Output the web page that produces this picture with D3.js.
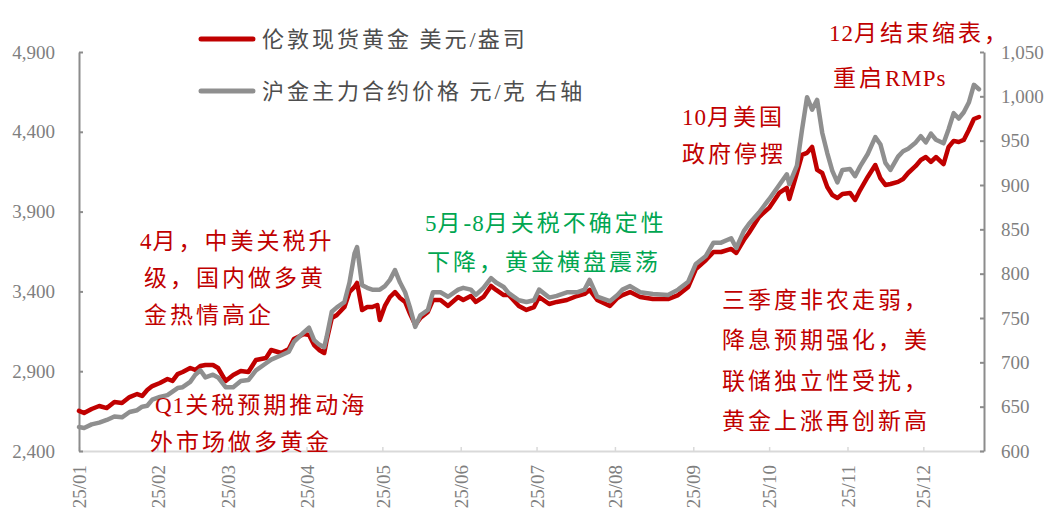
<!DOCTYPE html>
<html><head><meta charset="utf-8">
<script src="https://cdn.jsdelivr.net/npm/d3@7/dist/d3.min.js"></script>
<style>
body{margin:0;background:#fff;}
svg{display:block;}
text{white-space:pre;}
</style></head>
<body><svg id="chart" width="1047" height="522"></svg>
<script>
const dates = ["2025-01-01","2025-01-03","2025-01-06","2025-01-09","2025-01-12","2025-01-15","2025-01-18","2025-01-21","2025-01-24","2025-01-26","2025-01-28","2025-01-30",
"2025-02-02","2025-02-05","2025-02-07","2025-02-09","2025-02-11","2025-02-14","2025-02-16","2025-02-18","2025-02-20","2025-02-23","2025-02-25","2025-02-28",
"2025-03-03","2025-03-06","2025-03-09","2025-03-12","2025-03-16","2025-03-18","2025-03-22","2025-03-25","2025-03-27","2025-03-31",
"2025-04-02","2025-04-04","2025-04-06","2025-04-08","2025-04-09","2025-04-11","2025-04-13","2025-04-16","2025-04-18","2025-04-20","2025-04-21","2025-04-23","2025-04-25","2025-04-27","2025-04-29","2025-04-30",
"2025-05-02","2025-05-04","2025-05-06","2025-05-08","2025-05-10","2025-05-12","2025-05-14","2025-05-16","2025-05-19","2025-05-21","2025-05-24","2025-05-27","2025-05-31",
"2025-06-02","2025-06-05","2025-06-07","2025-06-10","2025-06-13","2025-06-15","2025-06-18","2025-06-20","2025-06-24","2025-06-27","2025-06-30",
"2025-07-02","2025-07-06","2025-07-09","2025-07-13","2025-07-17","2025-07-20","2025-07-22","2025-07-25","2025-07-30",
"2025-08-02","2025-08-04","2025-08-07","2025-08-11","2025-08-16","2025-08-22","2025-08-26","2025-08-30",
"2025-09-02","2025-09-06","2025-09-09","2025-09-12","2025-09-16","2025-09-18","2025-09-21","2025-09-23","2025-09-27",
"2025-10-01","2025-10-05","2025-10-08","2025-10-09","2025-10-12","2025-10-14","2025-10-16","2025-10-18","2025-10-20","2025-10-22","2025-10-24","2025-10-26","2025-10-28","2025-10-30",
"2025-11-02","2025-11-04","2025-11-06","2025-11-09","2025-11-12","2025-11-14","2025-11-16","2025-11-18","2025-11-21","2025-11-23","2025-11-25","2025-11-28","2025-11-30",
"2025-12-02","2025-12-04","2025-12-06","2025-12-09","2025-12-11","2025-12-13","2025-12-15","2025-12-17","2025-12-19","2025-12-21","2025-12-23"];

const londonGold = [2651,2638,2663,2682,2669,2707,2701,2738,2757,2745,2782,2807,
2826,2851,2839,2882,2895,2920,2908,2933,2939,2939,2920,2839,
2876,2901,2895,2970,2983,3033,3014,3039,3102,3133,
3127,3064,3033,3014,3096,3233,3252,3302,3396,3428,3453,3283,3302,3302,3315,3221,
3309,3365,3396,3359,3334,3258,3190,3233,3271,3346,3346,3309,3365,
3346,3371,3334,3365,3434,3409,3377,3377,3309,3284,3302,
3365,3321,3334,3346,3371,3384,3409,3346,3309,
3359,3377,3396,3365,3352,3352,3377,3428,
3540,3597,3647,3647,3666,3641,3722,3766,3866,
3923,4017,4048,3979,4142,4255,4268,4305,4161,4142,4054,4004,3985,4010,
4017,3973,4035,4117,4192,4110,4067,4073,4086,4104,4142,4186,4223,
4242,4211,4242,4198,4305,4343,4336,4349,4411,4480,4493];

const shfeGold = [627,626,630,632,635,639,638,644,646,650,651,658,
661,663,667,671,672,678,686,691,683,686,683,672,
672,679,680,691,699,703,708,712,723,734,
739,725,720,717,729,757,762,768,790,823,830,787,784,782,782,782,
786,793,804,790,779,761,740,753,759,779,779,774,782,
784,782,776,784,795,790,785,778,770,768,770,
782,773,775,779,779,782,793,774,769,
776,782,786,779,777,776,782,791,
811,820,835,835,840,829,848,856,869,
884,900,912,901,922,962,999,985,996,959,936,916,903,917,
918,910,921,935,954,946,925,917,932,938,941,948,955,
948,958,951,947,963,981,975,982,993,1013,1008];

const leftTicks = [2400,2900,3400,3900,4400,4900];
const rightTicks = [600,650,700,750,800,850,900,950,1000,1050];

const legendLabels = ["伦敦现货黄金 美元/盎司","沪金主力合约价格 元/克 右轴"];
const RED = "#C00000", GRAY = "#8F8F8F", GREEN = "#00A651";

const svg = d3.select("#chart");
const parse = d3.utcParse("%Y-%m-%d");
const data = dates.map((d,i)=>({date:parse(d), lg:londonGold[i], sh:shfeGold[i]}));

const x = d3.scaleUtc().domain([parse("2025-01-01"), parse("2025-12-25")]).range([79, 984]);
const yL = d3.scaleLinear().domain([2400,4900]).range([451,52]);
const yR = d3.scaleLinear().domain([600,1050]).range([451,52]);

const tickFont = "'Liberation Serif', 'Noto Sans CJK SC', serif";
const cjkFont = "'Liberation Serif', 'Noto Sans CJK SC', serif";

// bottom axis
const gx = svg.append("g").attr("transform","translate(0,451)")
  .call(d3.axisBottom(x).ticks(d3.utcMonth.every(1)).tickFormat(d3.utcFormat("%y/%m"))
    .tickSizeInner(-4).tickSizeOuter(0));
gx.select(".domain").attr("stroke","#D9D9D9").attr("stroke-width",2);
gx.selectAll(".tick line").attr("stroke","#D9D9D9").attr("stroke-width",1.5);
gx.selectAll(".tick text")
  .attr("y",0).attr("x",-14).attr("dy","0.35em")
  .attr("transform","rotate(-90)")
  .style("text-anchor","end")
  .attr("fill","#7F7F7F").style("font-family",tickFont).style("font-size","19px");

// left axis
const gl = svg.append("g").attr("transform","translate(79,0)")
  .call(d3.axisLeft(yL).tickValues(leftTicks).tickFormat(d3.format(","))
    .tickSizeInner(-4).tickSizeOuter(0).tickPadding(24));
gl.select(".domain").attr("stroke","#8C8C8C").attr("stroke-width",2);
gl.selectAll(".tick line").attr("stroke","#8C8C8C").attr("stroke-width",2);
gl.selectAll(".tick text").attr("fill","#7F7F7F").style("font-family",tickFont).style("font-size","19px");

// right axis
const gr = svg.append("g").attr("transform","translate(984,0)")
  .call(d3.axisRight(yR).tickValues(rightTicks).tickFormat(d3.format(","))
    .tickSizeInner(-4).tickSizeOuter(0).tickPadding(17));
gr.select(".domain").attr("stroke","#8C8C8C").attr("stroke-width",2);
gr.selectAll(".tick line").attr("stroke","#8C8C8C").attr("stroke-width",2);
gr.selectAll(".tick text").attr("fill","#7F7F7F").style("font-family",tickFont).style("font-size","19px");

// lines
const lineL = d3.line().x(d=>x(d.date)).y(d=>yL(d.lg));
const lineR = d3.line().x(d=>x(d.date)).y(d=>yR(d.sh));
svg.append("path").datum(data).attr("d",lineL).attr("fill","none")
  .attr("stroke",RED).attr("stroke-width",4.5).attr("stroke-linejoin","round").attr("stroke-linecap","round");
svg.append("path").datum(data).attr("d",lineR).attr("fill","none")
  .attr("stroke",GRAY).attr("stroke-width",4.5).attr("stroke-linejoin","round").attr("stroke-linecap","round");

// helper: split text into latin / CJK runs; letter-spacing only for CJK
function addRuns(sel, str, cjkSpacing, latinSpacing){
  const runs = str.match(/[A-Za-z0-9\-\/\s]+|[^A-Za-z0-9\-\/\s]+/g) || [];
  runs.forEach(r=>{
    const latin = /^[A-Za-z0-9\-\/\s]+$/.test(r);
    sel.append("tspan").style("letter-spacing", (latin?latinSpacing:cjkSpacing)+"px").text(r);
  });
}

// legend
const legendColors = [RED, GRAY];
const legendY = [39, 91];
legendLabels.forEach((lab,i)=>{
  svg.append("line").attr("x1",201).attr("x2",253).attr("y1",legendY[i]).attr("y2",legendY[i])
    .attr("stroke",legendColors[i]).attr("stroke-width",5).attr("stroke-linecap","round");
  const t = svg.append("text").attr("x",262).attr("y",legendY[i]).attr("dy","0.35em")
    .attr("fill","#4D4D4D").style("font-family",cjkFont).style("font-size","22px");
  addRuns(t, lab, 3, 2);
});

// annotations
const notes = [
  {x:140, y:241, c:RED, t:"4月，中美关税升"},
  {x:144, y:278, c:RED, t:"级，国内做多黄"},
  {x:144, y:315, c:RED, t:"金热情高企"},
  {x:155, y:405, c:RED, t:"Q1关税预期推动海"},
  {x:150, y:442, c:RED, t:"外市场做多黄金"},
  {x:425, y:223, c:GREEN, t:"5月-8月关税不确定性"},
  {x:427, y:262, c:GREEN, t:"下降，黄金横盘震荡"},
  {x:682, y:117, c:RED, t:"10月美国"},
  {x:682, y:154, c:RED, t:"政府停摆"},
  {x:722, y:300, c:RED, t:"三季度非农走弱，"},
  {x:722, y:340, c:RED, t:"降息预期强化，美"},
  {x:722, y:381, c:RED, t:"联储独立性受扰，"},
  {x:722, y:421, c:RED, t:"黄金上涨再创新高"},
  {x:829, y:33, c:RED, t:"12月结束缩表，"},
  {x:833, y:78, c:RED, t:"重启RMPs"}
];
notes.forEach(n=>{
  const t = svg.append("text").attr("x",n.x).attr("y",n.y).attr("dy","0.35em")
    .attr("fill",n.c).style("font-family",cjkFont).style("font-size","23px");
  addRuns(t, n.t, 3, 1);
});
</script>
</body></html>
